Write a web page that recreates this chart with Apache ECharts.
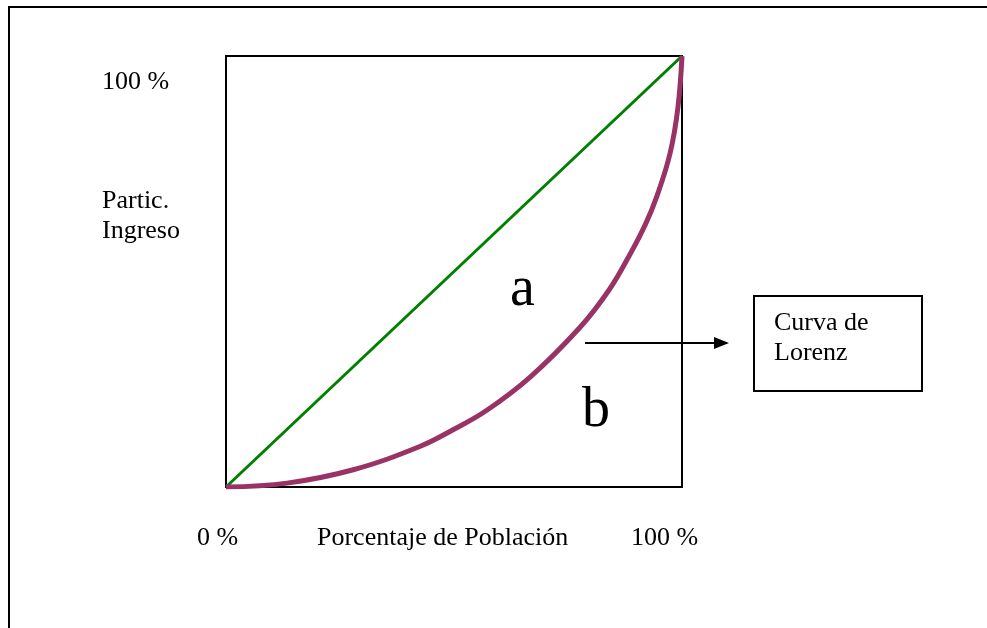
<!DOCTYPE html>
<html>
<head>
<meta charset="utf-8">
<script src="https://cdn.jsdelivr.net/npm/echarts@6/dist/echarts.min.js"></script>
<style>
    html, body { margin: 0; padding: 0; background: #fff; }
    #chart { width: 987px; height: 628px; }
</style>
</head>
<body>
<div id="chart"></div>
<script>
// data (percent of population vs percent of income)
const equalityLine = [[0, 0], [100, 100]];
const lorenzX = [0, 13.4, 27.9, 42.5, 50, 57.2, 66.7, 77.6, 84, 88.6, 92, 94.5, 97.4, 99.1, 100];
const lorenzY = [0, 0.9, 4.0, 9.4, 13.4, 17.8, 25.5, 37.0, 45.7, 54.0, 61.0, 67.5, 77.5, 88.0, 100];

const FONT = '"Liberation Serif", "Times New Roman", serif';

function label(text, x, baseline, size) {
    // place a text by its baseline (approx)
    return {
        type: 'text',
        left: x,
        top: baseline - size * 0.9,
        style: {
            text: text,
            font: `${size}px ${FONT}`,
            fill: '#000',
            lineHeight: 30
        }
    };
}

const myChart = echarts.init(document.getElementById('chart'));

const option = {
    animation: false,
    backgroundColor: '#fff',
    grid: {
        left: 226,
        top: 56,
        width: 456,
        height: 431,
        show: true,
        borderColor: '#000',
        borderWidth: 2
    },
    xAxis: {
        type: 'value',
        min: 0,
        max: 100,
        axisLine: { show: false },
        axisTick: { show: false },
        axisLabel: { show: false },
        splitLine: { show: false }
    },
    yAxis: {
        type: 'value',
        min: 0,
        max: 100,
        axisLine: { show: false },
        axisTick: { show: false },
        axisLabel: { show: false },
        splitLine: { show: false }
    },
    series: [
        {
            name: 'igualdad',
            type: 'line',
            data: equalityLine,
            showSymbol: false,
            lineStyle: { color: '#008000', width: 3 }
        },
        {
            name: 'Curva de Lorenz',
            type: 'line',
            smooth: 0.4,
            data: lorenzX.map((x, i) => [x, lorenzY[i]]),
            showSymbol: false,
            lineStyle: { color: '#993366', width: 5 }
        }
    ],
    graphic: [
        // outer frame (runs off the right and bottom)
        {
            type: 'rect',
            shape: { x: 9, y: 7, width: 1000, height: 640 },
            style: { fill: 'none', stroke: '#000', lineWidth: 2 }
        },
        label('100 %', 102, 91, 26),
        label('Partic.\nIngreso', 102, 210, 26),
        label('0 %', 197, 547, 26),
        label('Porcentaje de Población', 317, 547, 26),
        label('100 %', 631, 547, 26),
        label('a', 510, 313, 56),
        label('b', 582, 434, 56),
        // arrow pointing to the note box
        {
            type: 'line',
            shape: { x1: 585, y1: 343, x2: 716, y2: 343 },
            style: { stroke: '#000', lineWidth: 2 }
        },
        {
            type: 'polygon',
            shape: { points: [[714, 337], [729, 343], [714, 349]] },
            style: { fill: '#000' }
        },
        {
            type: 'rect',
            shape: { x: 754, y: 296, width: 168, height: 95 },
            style: { fill: '#fff', stroke: '#000', lineWidth: 2 }
        },
        label('Curva de\nLorenz', 774, 332, 26)
    ]
};

option && myChart.setOption(option);
</script>
</body>
</html>
